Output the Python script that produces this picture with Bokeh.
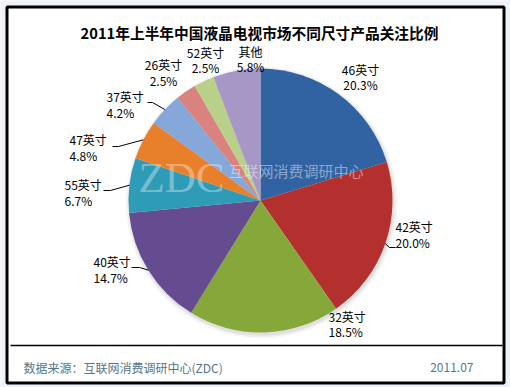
import math
from bokeh.plotting import figure
from bokeh.models import Range1d
from bokeh.embed import file_html
from bokeh.resources import INLINE
from bokeh.core.properties import value

# ---------------- data ----------------
title = "2011年上半年中国液晶电视市场不同尺寸产品关注比例"
sizes = ["46英寸", "42英寸", "32英寸", "40英寸", "55英寸", "47英寸", "37英寸", "26英寸", "52英寸", "其他"]
shares = [20.3, 20.0, 18.5, 14.7, 6.7, 4.8, 4.2, 2.5, 2.5, 5.8]
source_note = "数据来源：互联网消费调研中心(ZDC)"
date_note = "2011.07"

# ---------------- style ----------------
colors = ["#3163a3", "#b3302e", "#86a83b", "#654b90", "#2e9bb7",
          "#e8802b", "#86a7da", "#d98280", "#b8d089", "#a797c6"]
FONT = "Noto Sans CJK SC"

W, H = 510, 387
def sx(x):
    return x
def sy(y):
    return H - y

CX, CY, R = sx(260), sy(200), 132

# label layout (screen coords): (x, y_line1, y_line2, align)
label_pos = [
    (360, 69, 84, "center"),
    (395, 226, 242, "left"),
    (328, 316, 331, "left"),
    (93, 261, 277, "left"),
    (64, 184, 200, "left"),
    (69, 139, 155, "left"),
    (106, 96, 112, "left"),
    (163, 64, 80, "center"),
    (205, 52, 67, "center"),
    (250, 51, 66, "center"),
]
# leader line points (screen coords) from text toward the pie edge
leaders = {
    1: [(395, 247), (389, 247)],
    3: [(131, 267), (139, 267)],
    4: [(103, 190), (110, 190)],
    5: [(112, 146), (118, 146)],
    6: [(147, 102), (152, 102)],
}

p = figure(width=W, height=H, x_range=Range1d(0, W), y_range=Range1d(0, H),
           output_backend="svg", toolbar_location=None, min_border=0,
           x_axis_location=None, y_axis_location=None)
p.grid.visible = False
p.outline_line_color = None
p.background_fill_color = "#eef3f9"
p.border_fill_color = "#eef3f9"

# white panel
p.quad(left=[sx(5)], right=[sx(505)], bottom=[sy(384)], top=[sy(5)],
       fill_color="white", line_color=None)

# pie
total = sum(shares)
starts, ends, mids = [], [], []
cum = 0.0
for s in shares:
    a0 = math.pi / 2 - 2 * math.pi * cum / total
    cum += s
    a1 = math.pi / 2 - 2 * math.pi * cum / total
    starts.append(a0)
    ends.append(a1)
    mids.append((a0 + a1) / 2)

# soft shadow
for k, a in enumerate([0.05, 0.04, 0.03]):
    p.circle(x=CX + 1, y=CY - 2, radius=R + 1 + k * 1.5, fill_color="#000000",
             fill_alpha=a, line_color=None)

p.wedge(x=CX, y=CY, radius=R, start_angle=starts, end_angle=ends,
        direction="clock", fill_color=colors, line_color=None)

# watermark
p.text(x=[sx(138)], y=[sy(177)], text=["ZDC"], text_font=value("Liberation Serif"),
       text_font_size="43px", text_color="white", text_alpha=0.35,
       text_align="left", text_baseline="middle")
p.text(x=[sx(228)], y=[sy(170)], text=["互联网消费调研中心"], text_font=value(FONT),
       text_font_size="15px", text_color="white", text_alpha=0.45,
       text_align="left", text_baseline="middle")

# leader lines
for i, pts in leaders.items():
    ex = CX + R * math.cos(mids[i])
    ey = CY + R * math.sin(mids[i])
    xs = [sx(x) for x, _ in pts] + [ex]
    ys = [sy(y) for _, y in pts] + [ey]
    p.line(xs, ys, line_color="black", line_width=1)

# labels
for i, (lx, ly1, ly2, al) in enumerate(label_pos):
    p.text(x=[sx(lx), sx(lx)], y=[sy(ly1), sy(ly2)],
           text=[sizes[i], f"{shares[i]:.1f}%"], text_font=value(FONT),
           text_font_size="12px", text_color="black", text_align=al,
           text_baseline="middle")

# title
p.text(x=[sx(259)], y=[sy(32)], text=[title], text_font=value(FONT),
       text_font_size="14.7px", text_font_style="bold", text_color="black",
       text_align="center", text_baseline="middle")

# separator and footer
p.segment(x0=[sx(10)], y0=[sy(345)], x1=[sx(502)], y1=[sy(345)],
          line_color="black", line_width=1.5)
p.text(x=[sx(23)], y=[sy(367)], text=[source_note], text_font=value(FONT),
       text_font_size="12px", text_color="#557686", text_align="left",
       text_baseline="middle")
p.text(x=[sx(473)], y=[sy(367)], text=[date_note], text_font=value(FONT),
       text_font_size="12px", text_color="#557686", text_align="right",
       text_baseline="middle")

# outer frame
p.quad(left=[sx(6.5)], right=[sx(503.5)], bottom=[sy(382.5)], top=[sy(6.5)],
       fill_color=None, line_color="black", line_width=3)

open("out.html", "w").write(file_html(p, INLINE))
